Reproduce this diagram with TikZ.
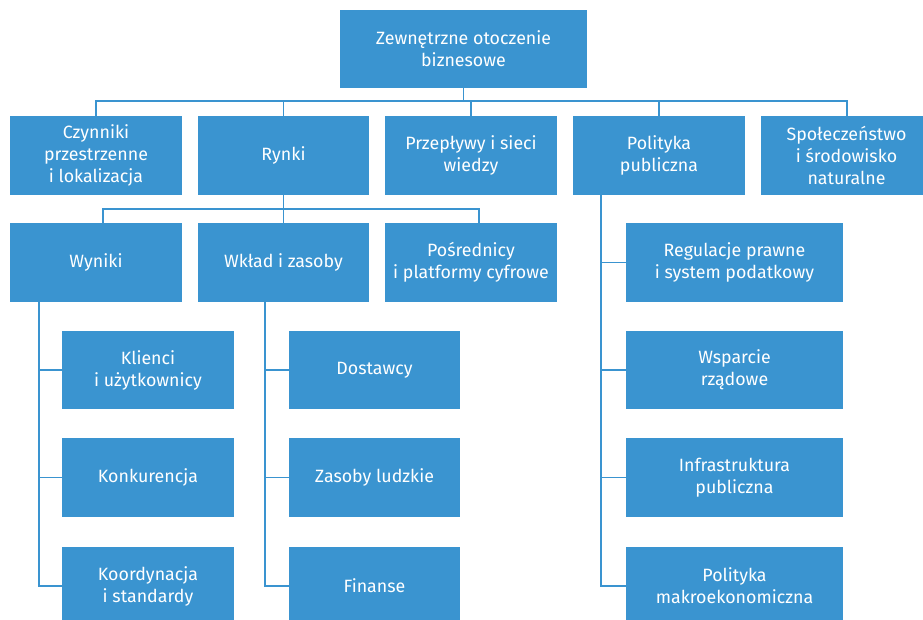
\documentclass[tikz,border=0pt]{standalone}
\usepackage{fontspec}
\setmainfont{Fira Sans}
\definecolor{boxblue}{HTML}{3A94D0}
\tikzset{
  box/.style={fill=boxblue, draw=none, text=white, align=center, inner sep=0pt, outer sep=0pt,
    font=\fontsize{17.8}{22}\selectfont},
  link/.style={draw=boxblue, line width=1.1pt}
}
% \bx{name}{left}{top}{right}{bottom}{text}
\newcommand{\bx}[6]{%
  \node[box, minimum width={#4-#2}, minimum height={#5-#3}] (#1) at ({(#2+#4)/2},{(#3+#5)/2}) {#6};}
\begin{document}
\begin{tikzpicture}[x=1pt,y=-1pt]
\useasboundingbox (0,0) rectangle (923,620);
\clip (0,0) rectangle (923,620);

% root
\bx{root}{340}{10}{587}{88}{Zewnętrzne otoczenie\\biznesowe}

% first level
\bx{czyn}{10}{116}{182}{195}{Czynniki\\przestrzenne\\i lokalizacja}
\bx{rynki}{198}{116}{369}{195}{Rynki}
\bx{przep}{385}{116}{557}{195}{Przepływy i sieci\\wiedzy}
\bx{pol}{573}{116}{745}{195}{Polityka\\publiczna}
\bx{spol}{761}{116}{932}{195}{Społeczeństwo\\i środowisko\\naturalne}

% second level under markets
\bx{wyn}{10}{223}{182}{302}{Wyniki}
\bx{wkl}{198}{223}{369}{302}{Wkład i zasoby}
\bx{posr}{385}{223}{557}{302}{Pośrednicy\\i platformy cyfrowe}

% children of results
\bx{kli}{62}{331}{234}{409}{Klienci\\i użytkownicy}
\bx{konk}{62}{438}{234}{517}{Konkurencja}
\bx{koord}{62}{547}{234}{625}{Koordynacja\\i standardy}

% children of inputs
\bx{dost}{289}{331}{460}{409}{Dostawcy}
\bx{zas}{289}{438}{460}{517}{Zasoby ludzkie}
\bx{fin}{289}{547}{460}{625}{Finanse}

% children of public policy
\bx{reg}{626}{223}{843}{302}{Regulacje prawne\\i system podatkowy}
\bx{wsp}{626}{331}{843}{409}{Wsparcie\\rządowe}
\bx{infra}{626}{438}{843}{517}{Infrastruktura\\publiczna}
\bx{mak}{626}{547}{843}{625}{Polityka\\makroekonomiczna}

% bus corners and spine positions
\coordinate (busAL) at (96,101);
\coordinate (busAR) at (847,101);
\coordinate (busBL) at (103,209);
\coordinate (busBR) at (479,209);
\coordinate (spWyn) at (39,302);
\coordinate (spWkl) at (265,302);
\coordinate (spPol) at (601,195);

% root to first level
\draw[link] (root.south) -- (root.south |- busAL);
\draw[link] (czyn.north -| busAL) -- (busAL) -- (busAR) -- (spol.north -| busAR);
\draw[link] (rynki.north) -- (rynki.north |- busAL);
\draw[link] (przep.north) -- (przep.north |- busAL);
\draw[link] (pol.north) -- (pol.north |- busAL);

% markets to second level
\draw[link] (rynki.south) -- (wkl.north);
\draw[link] (wyn.north -| busBL) -- (busBL) -- (busBR) -- (posr.north -| busBR);

% results branch
\draw[link] (spWyn) |- (koord.west);
\draw[link] (kli.west) -- (kli.west -| spWyn);
\draw[link] (konk.west) -- (konk.west -| spWyn);

% inputs branch
\draw[link] (spWkl) |- (fin.west);
\draw[link] (dost.west) -- (dost.west -| spWkl);
\draw[link] (zas.west) -- (zas.west -| spWkl);

% public policy branch
\draw[link] (spPol) |- (mak.west);
\draw[link] (reg.west) -- (reg.west -| spPol);
\draw[link] (wsp.west) -- (wsp.west -| spPol);
\draw[link] (infra.west) -- (infra.west -| spPol);
\end{tikzpicture}
\end{document}
